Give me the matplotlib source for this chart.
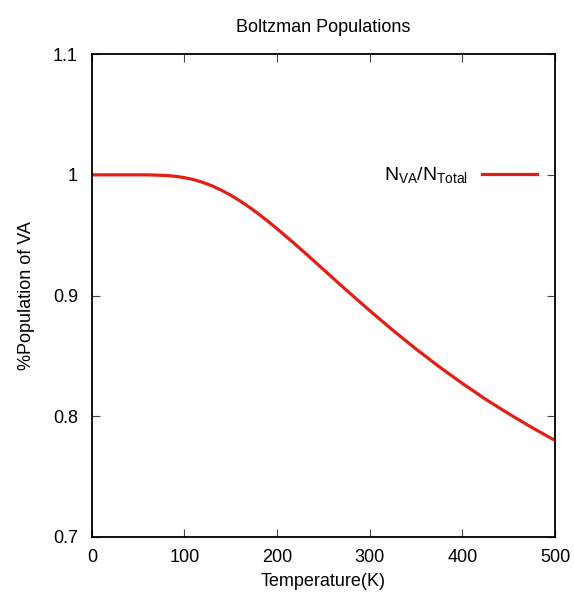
import numpy as np
import matplotlib.pyplot as plt

plt.rcParams['font.family'] = ['Liberation Sans', 'DejaVu Sans']
plt.rcParams['mathtext.fontset'] = 'custom'
plt.rcParams['mathtext.rm'] = 'Liberation Sans'
plt.rcParams['mathtext.it'] = 'Liberation Sans'

# temperature (K) and fraction of molecules in the VA state
temperature = [0, 20, 40, 60, 80, 90, 100, 110, 120, 130, 140, 150, 160,
               170, 180, 190, 200, 215, 230, 250, 275, 300, 325, 350, 375,
               400, 425, 450, 475, 500]
frac_va = [1.0, 1.0, 1.0, 1.0, 0.9995, 0.9988, 0.9977, 0.9960, 0.9937,
           0.9908, 0.9872, 0.9831, 0.9784, 0.9732, 0.9676, 0.9616, 0.9553,
           0.9455, 0.9354, 0.9216, 0.9043, 0.8875, 0.8712, 0.8557, 0.8410,
           0.8272, 0.8141, 0.8021, 0.7907, 0.7800]

xticks = [0, 100, 200, 300, 400, 500]
yticks = [0.7, 0.8, 0.9, 1.0, 1.1]
ytick_labels = ['0.7', '0.8', '0.9', '1', '1.1']

fig = plt.figure(figsize=(5.74, 5.95), dpi=100)
ax = fig.add_axes([0.160, 0.0975, 0.807, 0.8115])

ax.plot(temperature, frac_va, color='#e31e14', lw=2.3,
        label=r'$\mathregular{N_{VA}/N_{Total}}$')

ax.set_xlim(0, 500)
ax.set_ylim(0.7, 1.1)
ax.set_xticks(xticks)
ax.set_yticks(yticks)
ax.set_yticklabels(ytick_labels)
ax.tick_params(direction='in', top=True, right=True, length=6, width=0.8,
               labelsize=13, color='#444444')
ax.tick_params(axis='x', pad=9)
ax.tick_params(axis='y', pad=10)
for s in ax.spines.values():
    s.set_linewidth(1.3)

ax.set_title('Boltzman Populations', fontsize=13, pad=16)
ax.set_xlabel('Temperature(K)', fontsize=13, labelpad=5)
ax.set_ylabel('%Population of VA', fontsize=13, labelpad=13)

ax.legend(loc='center right', bbox_to_anchor=(0.961, 0.749), frameon=False,
          markerfirst=False, borderpad=0, borderaxespad=0, handlelength=2.85,
          handletextpad=0.7, fontsize=14)

fig.savefig('out.png', dpi=100)
